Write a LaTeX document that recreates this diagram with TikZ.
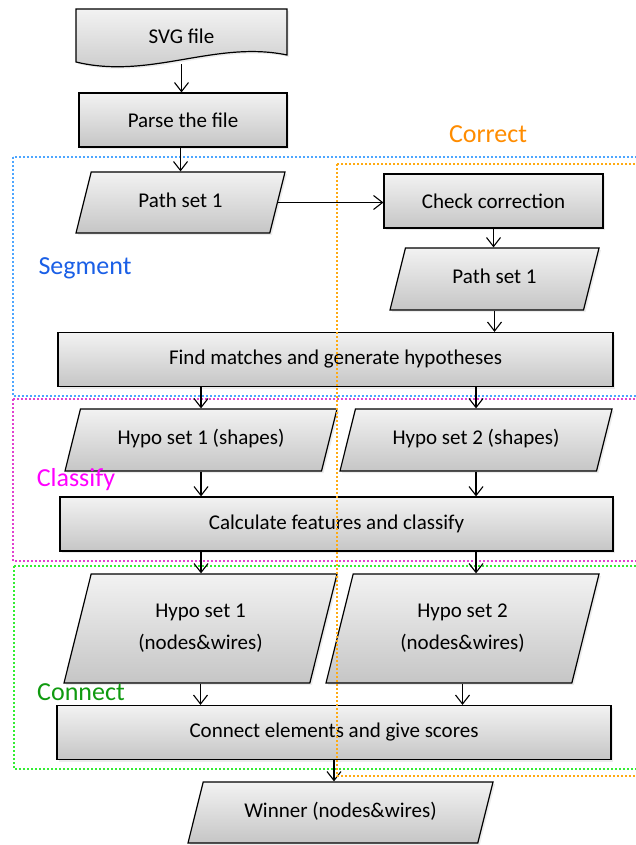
\documentclass[tikz,border=0pt]{standalone}
\usepackage{fontspec}
\setmainfont{Carlito}
\usetikzlibrary{shapes.geometric,shadows,arrows.meta}

\definecolor{segblue}{HTML}{4DA6FF}
\definecolor{segtext}{HTML}{1A5FE6}
\definecolor{corange}{HTML}{FFAA11}
\definecolor{cortext}{HTML}{FF8C00}
\definecolor{clsmag}{HTML}{E040D0}
\definecolor{clstext}{HTML}{FF00FF}
\definecolor{congreen}{HTML}{33EE33}
\definecolor{context}{HTML}{109A10}

\begin{document}
\begin{tikzpicture}[x=1pt,y=-1pt,font=\fontsize{21}{32}\selectfont,
    box/.style={draw,line width=1.2pt,top color=gray!10,bottom color=gray!45,
        drop shadow={opacity=.15,shadow xshift=2pt,shadow yshift=-2pt}},
    proc/.style={box,rectangle,minimum width=#1,minimum height=54},
    data/.style 2 args={box,trapezium,trapezium left angle=76,trapezium right angle=104,
        trapezium stretches body,minimum width=#1,text height=14pt,text depth=5pt,
        inner ysep=#2,align=center},
    flow/.style={-{Straight Barb[length=9pt,width=14pt]},line width=1.1pt},
    zone/.style={line width=2.2pt,dash pattern=on 2pt off 2pt},
    tag/.style={font=\fontsize{26}{30}\selectfont}]
    \useasboundingbox (0,0) rectangle (635,845);

    % stage frames
    \draw[zone,segblue] (13,157) rectangle (660,396);
    \draw[zone,clsmag] (13,399) rectangle (660,561);
    \draw[zone,congreen] (14,566) rectangle (660,769);

    % input document
    \draw[box] (76,9) -- (287,9) -- (287,55) .. controls (215,40) and (150,80) .. (76,62) -- cycle;
    \node[minimum width=211,minimum height=56] (svg) at (181.5,36) {SVG file};

    \node[proc=208] (parse) at (183,120) {Parse the file};
    \node[data={209}{21}] (path1) at (180.5,202.5) {Path set 1};
    \node[proc=219] (check) at (493.5,201) {Check correction};
    \node[data={209}{21.5}] (path2) at (494.5,279) {Path set 1};
    \node[proc=555] (find) at (335.5,359.5) {Find matches and generate hypotheses};
    \node[data={272}{21.5}] (hypoA) at (201,440) {Hypo set 1 (shapes)};
    \node[data={272}{21.5}] (hypoB) at (476,440) {Hypo set 2 (shapes)};
    \node[proc=553] (calc) at (336.5,524) {Calculate features and classify};
    \node[data={273}{29},text height=46pt] (nwA) at (200.5,628.5) {Hypo set 1\\(nodes\&wires)};
    \node[data={273}{29},text height=46pt] (nwB) at (462.5,628.5) {Hypo set 2\\(nodes\&wires)};
    \node[proc=554] (conn) at (334,732.5) {Connect elements and give scores};
    \node[data={305}{21}] (win) at (340.5,812.5) {Winner (nodes\&wires)};

    % connectors
    \draw[flow] (svg.south) -- (svg.south |- parse.north);
    \draw[flow] (path1.north |- parse.south) -- (path1.north);
    \draw[flow] (path1.east) -- (path1.east -| check.west);
    \draw[flow] (check.south) -- (check.south |- path2.north);
    \draw[flow] (path2.south) -- (path2.south |- find.north);
    \draw[flow] (hypoA.north |- find.south) -- (hypoA.north);
    \draw[flow] (hypoB.north |- find.south) -- (hypoB.north);
    \draw[flow] (hypoA.south) -- (hypoA.south |- calc.north);
    \draw[flow] (hypoB.south) -- (hypoB.south |- calc.north);
    \draw[flow] (calc.south -| hypoA.south) -- (nwA.north -| hypoA.south);
    \draw[flow] (calc.south -| hypoB.south) -- (nwB.north -| hypoB.south);
    \draw[flow] (nwA.south) -- (nwA.south |- conn.north);
    \draw[flow] (nwB.south) -- (nwB.south |- conn.north);
    \draw[flow] (conn.south) -- (conn.south |- win.north);

    % stage labels
    \node[tag,text=segtext] (segment) at (85,268) {Segment};
    \node[tag,text=cortext] (correct) at (488,134) {Correct};
    \node[tag,text=clstext] (classify) at (76,480) {Classify};
    \node[tag,text=context] (connect) at (81,692) {Connect};

    \draw[zone,corange] (337,164) rectangle (660,776);
\end{tikzpicture}
\end{document}
